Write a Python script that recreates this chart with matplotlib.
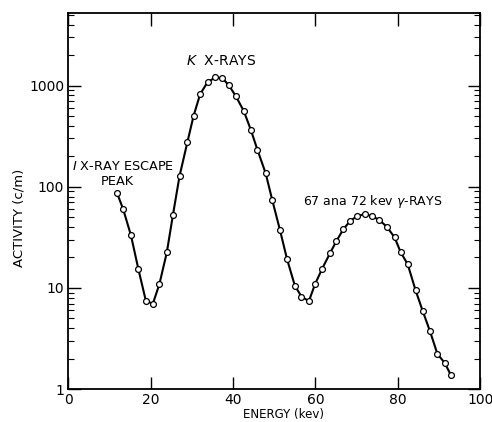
import matplotlib.pyplot as plt
import numpy as np
from matplotlib.ticker import LogLocator, NullFormatter

# energy spectrum, counting rate vs energy
energy = [11.8, 13.3, 15.2, 17.0, 18.8, 20.5, 22.1, 23.9, 25.4, 27.0,
          28.9, 30.4, 32.0, 33.8, 35.7, 37.4, 39.0, 40.7, 42.6, 44.3,
          45.9, 47.9, 49.5, 51.4, 53.1, 55.0, 56.6, 58.4, 59.9, 61.6,
          63.5, 65.1, 66.8, 68.5, 70.2, 72.0, 73.8, 75.5, 77.3, 79.2,
          80.7, 82.4, 84.3, 86.0, 87.8, 89.6, 91.4, 92.9]
activity = [87, 60, 33, 15.3, 7.5, 6.95, 10.9, 22.4, 53, 128,
            276, 502, 822, 1081, 1202, 1183, 1002, 780, 559, 365,
            232, 136, 74, 37, 19.2, 10.5, 8.2, 7.4, 10.9, 15.4,
            21.9, 29.1, 38.2, 46.2, 51.4, 53.5, 51.1, 46.9, 40.3, 31.6,
            22.5, 17.1, 9.5, 5.97, 3.74, 2.23, 1.81, 1.37]

xticks = [0, 20, 40, 60, 80, 100]
yticks = [1, 10, 100, 1000]
ylabels = ["1", "10", "100", "1000"]

plt.rcParams['font.family'] = ['DejaVu Sans']
fig = plt.figure(figsize=(4.92, 4.22), dpi=100)
ax = fig.add_axes([0.139, 0.078, 0.837, 0.891])

ax.plot(energy, activity, color="black", lw=1.5, zorder=2)
ax.plot(energy, activity, "o", ms=4.2, mfc="white", mec="black", mew=0.9, zorder=3)

ax.set_yscale("log")
ax.set_xlim(0, 100)
ax.set_ylim(1, 5200)

ax.set_xticks(xticks)
ax.set_xticklabels([str(t) for t in xticks], fontsize=10)
ax.set_yticks(yticks)
ax.set_yticklabels(ylabels, fontsize=10)
ax.yaxis.set_minor_locator(LogLocator(base=10, subs=np.arange(2, 10)))
ax.yaxis.set_minor_formatter(NullFormatter())

ax.tick_params(which="major", direction="in", length=9, width=1.0,
               top=True, right=True, pad=3)
ax.tick_params(which="minor", direction="in", length=4, width=0.8,
               right=True)
ax.tick_params(axis="x", which="minor", bottom=False, top=False)
for s in ax.spines.values():
    s.set_linewidth(1.3)

ax.set_xlabel("ENERGY (kev)", fontsize=8.5)
ax.set_ylabel("ACTIVITY (c/m)", fontsize=9.5)
ax.xaxis.set_label_coords(0.522, -0.05)
ax.yaxis.set_label_coords(-0.105, 0.455)

ax.text(28.6, 1740, "$\\mathit{K}$  X-RAYS", fontsize=10, ha="left", va="center")
ax.text(0.8, 160, "$\\mathit{I}$ X-RAY ESCAPE", fontsize=9.3, ha="left", va="center")
ax.text(12.0, 112, "PEAK", fontsize=9.3, ha="center", va="center")
ax.text(57, 72, "67 ana 72 kev $\\gamma$-RAYS", fontsize=9, ha="left", va="center")

fig.savefig("out.png", dpi=100)
